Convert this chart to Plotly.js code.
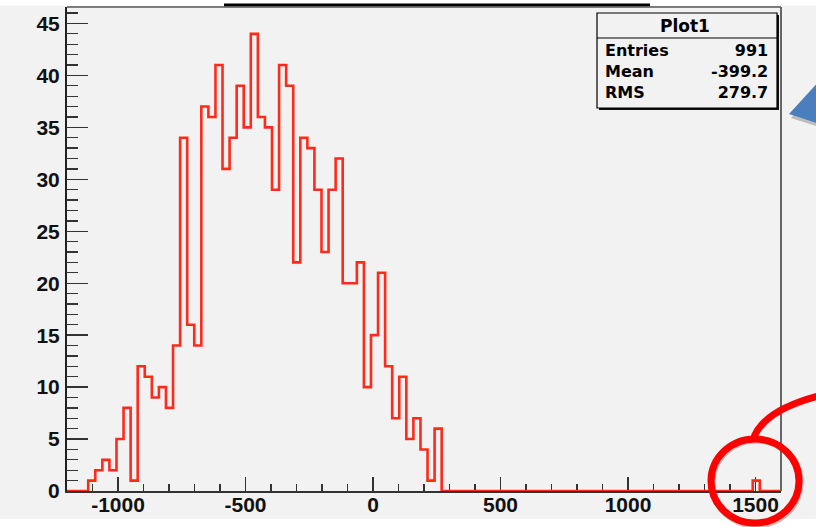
<!DOCTYPE html>
<html>
<head>
<meta charset="utf-8">
<script src="https://cdn.plot.ly/plotly-3.0.1.min.js"></script>
<style>html,body{margin:0;padding:0;background:#f2f2f2;}#chart{width:816px;height:527px;}</style>
</head>
<body>
<div id="chart"></div>
<script>
// ---- data ----
const histName = "Plot1";
const binLow = -1200;
const binHigh = 1600;
const nBins = 101;
const counts = [
  0, 0, 0, 1, 2, 3, 2, 5, 8, 1,
  12, 11, 9, 10, 8, 14, 34, 16, 14, 37,
  36, 41, 31, 34, 39, 35, 44, 36, 35, 29,
  41, 39, 22, 34, 33, 29, 23, 29, 32, 20,
  20, 22, 10, 15, 21, 12, 7, 11, 5, 7,
  4, 1, 6, 0, 0, 0, 0, 0, 0, 0,
  0, 0, 0, 0, 0, 0, 0, 0, 0, 0,
  0, 0, 0, 0, 0, 0, 0, 0, 0, 0,
  0, 0, 0, 0, 0, 0, 0, 0, 0, 0,
  0, 0, 0, 0, 0, 0, 0, 1, 0, 0,
  0
];
const statLabels = ["Entries", "Mean", "RMS"];
const statValues = ["991", "-399.2", "279.7"];
const xTickVals = [-1000, -500, 0, 500, 1000, 1500];
const yTickVals = [0, 5, 10, 15, 20, 25, 30, 35, 40, 45];

// ---- build step outline from bins ----
const bw = (binHigh - binLow) / nBins;
const sx = [], sy = [];
for (let i = 0; i < nBins; i++) { sx.push(binLow + i * bw); sy.push(counts[i]); }
sx.push(binHigh); sy.push(counts[nBins - 1]);

const trace = {
  type: 'scatter', mode: 'lines', x: sx, y: sy,
  line: { shape: 'hv', color: '#ff2a1a', width: 2.6 },
  cliponaxis: false, hoverinfo: 'skip'
};

// ---- layout geometry ----
const L = 67, R = 35, T = 7, B = 36, FW = 816, FH = 527;
const W = FW - L - R, H = FH - T - B;
const px = p => (p - L) / W;
const py = p => (T + H - p) / H;

const font = 'Liberation Sans, Arial, Helvetica, sans-serif';
const statFont = 'DejaVu Sans, Liberation Sans, sans-serif';
const shapes = [];
const annotations = [];

// white strips at top and bottom of the picture
shapes.push({type:'rect', xref:'paper', yref:'paper', x0:px(0), x1:px(FW), y0:py(0), y1:py(5.5), fillcolor:'#ffffff', line:{width:0}, layer:'below'});
shapes.push({type:'rect', xref:'paper', yref:'paper', x0:px(0), x1:px(FW), y0:py(519), y1:py(FH), fillcolor:'#ffffff', line:{width:0}, layer:'below'});
// black bar at top
shapes.push({type:'line', xref:'paper', yref:'paper', x0:px(224), x1:px(650), y0:py(5), y1:py(5), line:{color:'#000', width:3}});
// top and right frame lines
shapes.push({type:'line', xref:'paper', yref:'paper', x0:0, x1:1, y0:1, y1:1, line:{color:'#555', width:1.5}});
shapes.push({type:'line', xref:'paper', yref:'paper', x0:1, x1:1, y0:0, y1:1, line:{color:'#666', width:2}});

// stats box
const bx0 = 597, bx1 = 777, by0 = 13, by1 = 108, bdiv = 38;
shapes.push({type:'rect', xref:'paper', yref:'paper', x0:px(bx0+2), x1:px(bx1+2), y0:py(by1+2), y1:py(by0+2), fillcolor:'#111', line:{width:0}});
shapes.push({type:'rect', xref:'paper', yref:'paper', x0:px(bx0), x1:px(bx1), y0:py(by1), y1:py(by0), fillcolor:'#f2f2f2', line:{color:'#000', width:1.2}});
shapes.push({type:'line', xref:'paper', yref:'paper', x0:px(bx0), x1:px(bx1), y0:py(bdiv), y1:py(bdiv), line:{color:'#000', width:1.2}});
annotations.push({xref:'paper', yref:'paper', x:px((bx0+bx1)/2 - 2), y:py(26), text:'<b>'+histName+'</b>', showarrow:false, xanchor:'center', yanchor:'middle', font:{family:statFont, size:17, color:'#000'}});
annotations.push({xref:'paper', yref:'paper', x:px(604), y:py(71), text:statLabels.map(s => '<b>'+s+'</b>').join('<br>'), showarrow:false, xanchor:'left', yanchor:'middle', align:'left', borderpad:0, font:{family:statFont, size:16, color:'#000'}});
annotations.push({xref:'paper', yref:'paper', x:px(769), y:py(71), text:statValues.map(s => '<b>'+s+'</b>').join('<br>'), showarrow:false, xanchor:'right', yanchor:'middle', align:'right', borderpad:0, font:{family:statFont, size:16, color:'#000'}});

// blue triangle (with soft shadow)
const tri = (dx, dy) => `M ${px(789+dx)} ${py(114+dy)} L ${px(820+dx)} ${py(80+dy)} L ${px(820+dx)} ${py(124+dy)} Z`;
shapes.push({type:'path', xref:'paper', yref:'paper', path:tri(2,4), fillcolor:'rgba(90,90,90,0.35)', line:{width:0}});
shapes.push({type:'path', xref:'paper', yref:'paper', path:tri(0,0), fillcolor:'#4a7ebd', line:{width:0}});

// red circle and curve
shapes.push({type:'circle', xref:'paper', yref:'paper', x0:px(712), x1:px(800), y0:py(525), y1:py(440), line:{color:'rgba(80,0,0,0.25)', width:7}, fillcolor:'rgba(0,0,0,0)'});
shapes.push({type:'circle', xref:'paper', yref:'paper', x0:px(711), x1:px(799), y0:py(523), y1:py(439), line:{color:'#ff0000', width:7}, fillcolor:'rgba(0,0,0,0)'});
shapes.push({type:'path', xref:'paper', yref:'paper', path:`M ${px(753)} ${py(440)} Q ${px(762)} ${py(410)} ${px(822)} ${py(395)}`, line:{color:'#ff0000', width:7}, fillcolor:'rgba(0,0,0,0)'});

const layout = {
  width: FW, height: FH,
  margin: {l: L, r: R, t: T, b: B, pad: 0},
  paper_bgcolor: '#f2f2f2', plot_bgcolor: '#f2f2f2',
  showlegend: false,
  xaxis: {
    range: [binLow, binHigh], tickvals: xTickVals, ticktext: xTickVals.map(String),
    ticks: 'inside', ticklen: 14, tickwidth: 1.3, tickcolor: '#333',
    minor: {ticks: 'inside', ticklen: 7, dtick: 100, tick0: 0, tickwidth: 1.3, tickcolor: '#333', showgrid: false},
    showline: true, linecolor: '#333', linewidth: 2, showgrid: false, zeroline: false,
    tickfont: {family: font, size: 21, color: '#111', weight: 'bold'},
    ticklabelstandoff: -6, layer: 'below traces', fixedrange: true
  },
  yaxis: {
    range: [0, H / 10.39], tickvals: yTickVals, ticktext: yTickVals.map(String),
    ticks: 'inside', ticklen: 21, tickwidth: 1.3, tickcolor: '#333',
    minor: {ticks: 'inside', ticklen: 10.5, dtick: 1, tick0: 0, tickwidth: 1.3, tickcolor: '#333', showgrid: false},
    showline: true, linecolor: '#222', linewidth: 2, showgrid: false, zeroline: false,
    tickfont: {family: font, size: 21, color: '#111', weight: 'bold'},
    ticklabelstandoff: 1, layer: 'below traces', fixedrange: true
  },
  shapes: shapes,
  annotations: annotations
};

Plotly.newPlot('chart', [trace], layout, {displayModeBar: false, staticPlot: true});
</script>
</body>
</html>
